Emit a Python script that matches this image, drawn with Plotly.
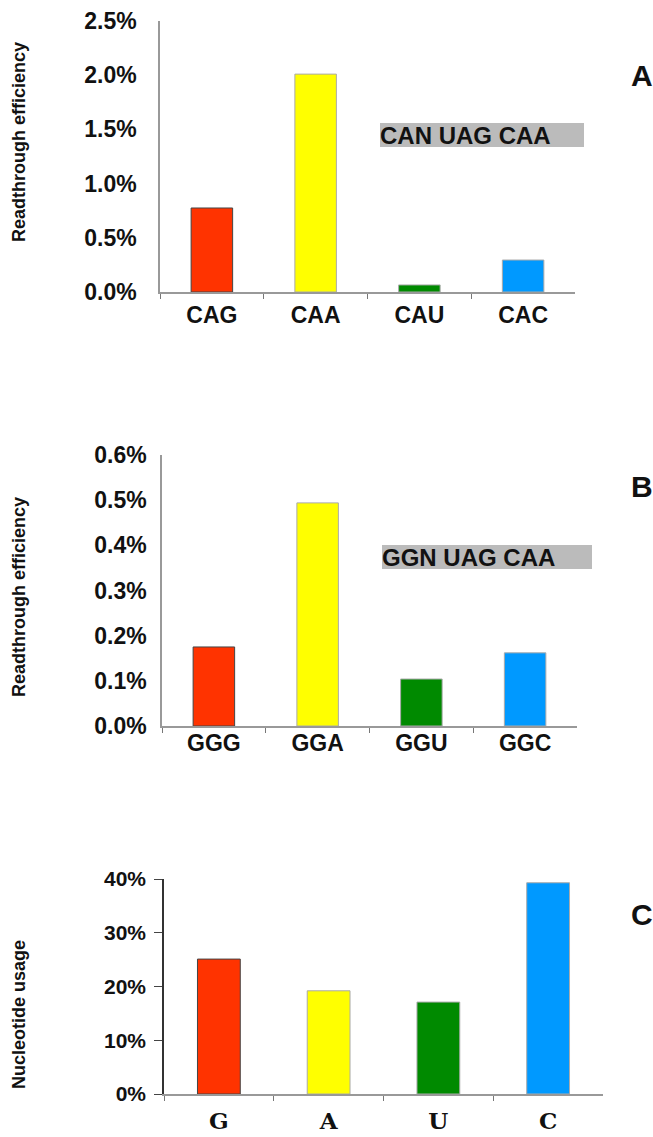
import plotly.graph_objects as go

W, H = 653, 1137

# ---- data ----
codons_a = ["CAG", "CAA", "CAU", "CAC"]
readthrough_a = [0.775, 2.01, 0.065, 0.295]   # percent

codons_b = ["GGG", "GGA", "GGU", "GGC"]
readthrough_b = [0.175, 0.494, 0.104, 0.162]  # percent

nucleotides_c = ["G", "A", "U", "C"]
usage_c = [25.1, 19.2, 17.1, 39.3]            # percent

bar_colors = ["#FF3300", "#FFFF00", "#008A00", "#0099FF"]
outline_colors = ["#444444", "#AAAAAA", "#AAAAAA", "#AAAAAA"]

def px_x(v):
    return v / W

def px_y(v):
    return 1 - v / H

fig = go.Figure()

fig.add_trace(go.Bar(x=codons_a, y=readthrough_a, marker=dict(color=bar_colors, line=dict(color=outline_colors, width=1)),
                     width=0.4, xaxis="x", yaxis="y", showlegend=False, hoverinfo="skip"))
fig.add_trace(go.Bar(x=codons_b, y=readthrough_b, marker=dict(color=bar_colors, line=dict(color=outline_colors, width=1)),
                     width=0.4, xaxis="x2", yaxis="y2", showlegend=False, hoverinfo="skip"))
fig.add_trace(go.Bar(x=nucleotides_c, y=usage_c, marker=dict(color=bar_colors, line=dict(color=outline_colors, width=1)),
                     width=0.39, xaxis="x3", yaxis="y3", showlegend=False, hoverinfo="skip"))

sans_bold = "Liberation Sans"

def xaxis(dom, anchor, fam, size, standoff):
    return dict(domain=[px_x(dom[0]), px_x(dom[1])], anchor=anchor, showline=True, linecolor="#999999", linewidth=1.5,
                ticks="outside", tickson="boundaries", ticklen=5, tickcolor="#777777", tickwidth=1,
                showgrid=False, zeroline=False, fixedrange=True, automargin=False,
                tickfont=dict(family=fam, size=size, color="#111111", weight="bold"), ticklabelstandoff=standoff)

def yaxis(dom, anchor, rng, dtick, fmt, size, ticklen, standoff, linecolor):
    return dict(domain=[px_y(dom[1]), px_y(dom[0])], anchor=anchor, range=rng, dtick=dtick, tick0=0,
                tickformat=fmt, ticksuffix="%", showline=True, linecolor=linecolor, linewidth=1.5,
                ticks="outside" if ticklen else "", ticklen=ticklen, tickcolor="#444444",
                showgrid=False, zeroline=False, fixedrange=True, automargin=False,
                tickfont=dict(family=sans_bold, size=size, color="#111111", weight="bold"),
                ticklabelstandoff=standoff)

fig.update_layout(
    width=W, height=H, margin=dict(l=0, r=0, t=0, b=0, autoexpand=False),
    plot_bgcolor="white", paper_bgcolor="white", bargap=0.6,
    font=dict(family=sans_bold, color="#111111"),
    xaxis=xaxis((160, 575), "y", sans_bold, 23, 2),
    yaxis=yaxis((21, 292), "x", [0, 2.5], 0.5, ".1f", 23, 0, 17, "#999999"),
    xaxis2=xaxis((162, 577), "y2", sans_bold, 23, -4),
    yaxis2=yaxis((455, 726), "x2", [0, 0.6], 0.1, ".1f", 23, 0, 9, "#999999"),
    xaxis3=xaxis((164, 603), "y3", "DejaVu Serif", 23, 6),
    yaxis3=yaxis((879, 1094), "x3", [0, 40], 10, ".0f", 21, 8, 4, "#333333"),
)

annotations = []
# y-axis titles
for text, yc in [("Readthrough efficiency", 142), ("Readthrough efficiency", 597), ("Nucleotide usage", 1015)]:
    annotations.append(dict(text=text, x=px_x(19), y=px_y(yc), xref="paper", yref="paper", textangle=-90,
                            showarrow=False, xanchor="center", yanchor="middle",
                            font=dict(family=sans_bold, size=18, color="#111111", weight="bold")))
# panel letters
for text, yc in [("A", 75), ("B", 487), ("C", 914)]:
    annotations.append(dict(text=text, x=px_x(642), y=px_y(yc), xref="paper", yref="paper", showarrow=False,
                            xanchor="center", yanchor="middle",
                            font=dict(family=sans_bold, size=30, color="#111111", weight="bold")))
# sequence boxes
for text, x0, x1, y0, y1 in [("CAN UAG CAA", 380, 584, 123, 147), ("GGN UAG CAA", 382, 592, 545, 569)]:
    annotations.append(dict(text=text, x=px_x(x0), y=px_y(y0), xref="paper", yref="paper", showarrow=False,
                            xanchor="left", yanchor="top", align="left", width=x1 - x0, height=y1 - y0,
                            bgcolor="#BBBBBB", borderpad=0, borderwidth=0, valign="middle",
                            font=dict(family=sans_bold, size=24, color="#111111", weight="bold")))
fig.update_layout(annotations=annotations)

fig.write_html("out.html", config={"displayModeBar": False},
               post_script="document.body.style.margin='0';document.body.style.padding='0';")
